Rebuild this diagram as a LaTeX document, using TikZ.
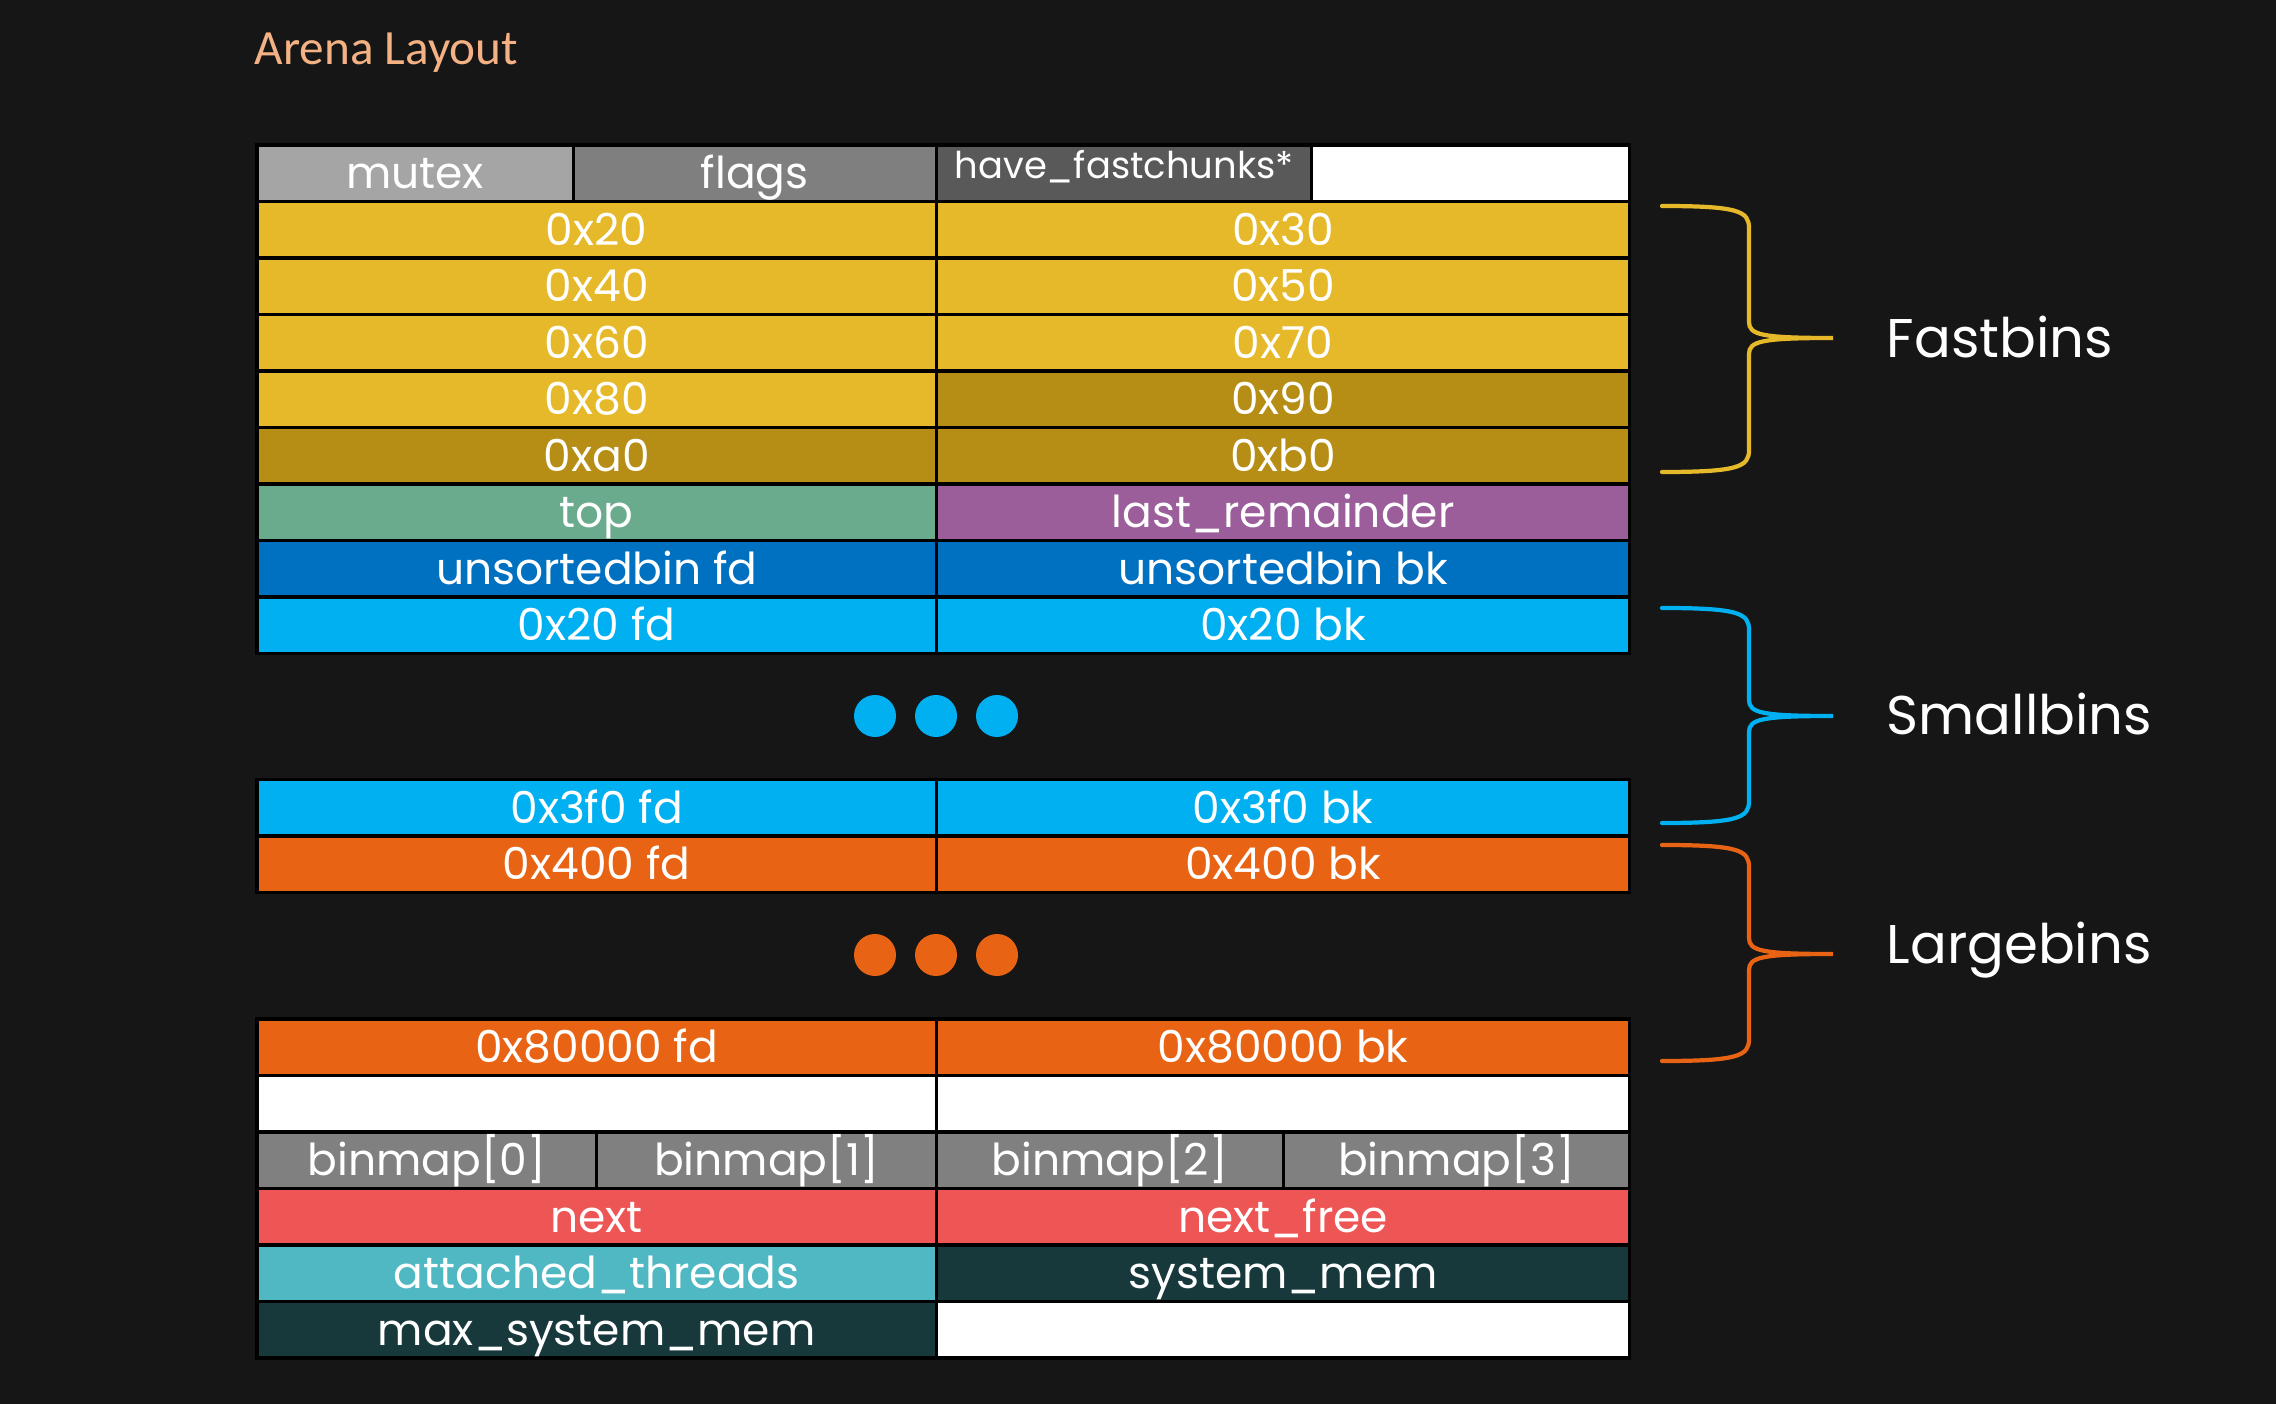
\documentclass[tikz,border=0pt]{standalone}
\usepackage{fontspec}
\newfontfamily\cellfont{Poppins}
\newfontfamily\titlefont{Carlito}
\usetikzlibrary{positioning}
\definecolor{bg}{HTML}{161616}
\definecolor{titlepeach}{HTML}{F4B183}
\definecolor{mutexgray}{HTML}{A5A5A5}
\definecolor{flaggray}{HTML}{7F7F7F}
\definecolor{fastgray}{HTML}{595959}
\definecolor{fastbin}{HTML}{E6B92B}
\definecolor{fastdark}{HTML}{B68E15}
\definecolor{topgreen}{HTML}{6AAB8E}
\definecolor{lastpurple}{HTML}{9B5E9B}
\definecolor{unsorted}{HTML}{0070C0}
\definecolor{smallbin}{HTML}{00B0F0}
\definecolor{largebin}{HTML}{E86414}
\definecolor{binmapgray}{HTML}{808080}
\definecolor{nextred}{HTML}{EE5555}
\definecolor{threadteal}{HTML}{4FB8C2}
\definecolor{memdark}{HTML}{18393C}
\tikzset{
  cell/.style={draw=black, line width=0.9pt, anchor=north west, inner sep=0pt,
               outer sep=0pt, minimum height=0.565cm, text=white,
               text height=8.8pt, text depth=0pt,
               font=\cellfont\fontsize{12.5}{14}\selectfont},
  halfl/.style={cell, minimum width=6.79cm},
  halfr/.style={cell, minimum width=6.93cm},
  dot/.style={circle, inner sep=0pt, minimum size=0.42cm},
  brace/.style={line width=1.2pt, line cap=round},
  binlabel/.style={anchor=west, inner sep=0pt, text=white,
                   font=\cellfont\fontsize{15.5}{18}\selectfont}
}
% colour, top, tip, bottom
\newcommand{\binbrace}[4]{%
  \draw[brace, draw=#1] (1662,#2) .. controls (1738,#2) and (1749,#2+5) .. (1749,#2+22)
    -- (1749,#3-16) .. controls (1749,#3-3) and (1762,#3) .. (1833,#3)
    .. controls (1762,#3) and (1749,#3+3) .. (1749,#3+16)
    -- (1749,#4-22) .. controls (1749,#4-5) and (1738,#4) .. (1662,#4);}
\begin{document}
\begin{tikzpicture}[x=0.01cm,y=-0.01cm]
  \fill[bg] (0,0) rectangle (2276,1404);
  \node[anchor=base west, inner sep=0pt, text=titlepeach,
        font=\titlefont\fontsize{14}{16}\selectfont] (title) at (254,65) {Arena Layout};
  % first row
  \node[cell, fill=mutexgray, minimum width=3.16cm] (mutex) at (257,145) {mutex};
  \node[cell, fill=flaggray, minimum width=3.63cm] (flags) at (mutex.north east) {flags};
  \node[cell, fill=fastgray, minimum width=3.75cm, text height=3pt,
        font=\cellfont\fontsize{10.5}{12}\selectfont] (havefast) at (flags.north east)
    {have\_fastchunks*};
  \node[cell, fill=white, minimum width=3.18cm] (pad1) at (havefast.north east) {};
  % two-column rows
  \foreach \n/\y/\lt/\rt/\lc/\rc in {
      2/201.5/0x20/0x30/fastbin/fastbin,
      3/258/0x40/0x50/fastbin/fastbin,
      4/314.5/0x60/0x70/fastbin/fastbin,
      5/371/0x80/0x90/fastbin/fastdark,
      6/427.5/0xa0/0xb0/fastdark/fastdark,
      7/484/top/last\_remainder/topgreen/lastpurple,
      8/540.5/unsortedbin fd/unsortedbin bk/unsorted/unsorted,
      9/597/0x20 fd/0x20 bk/smallbin/smallbin,
      10/779.5/0x3f0 fd/0x3f0 bk/smallbin/smallbin,
      11/836/0x400 fd/0x400 bk/largebin/largebin,
      12/1019/0x80000 fd/0x80000 bk/largebin/largebin,
      13/1075.5/{}/{}/white/white,
      15/1188.5/next/next\_free/nextred/nextred,
      16/1245/attached\_threads/system\_mem/threadteal/memdark,
      17/1301.5/max\_system\_mem/{}/memdark/white} {
    \node[halfl, fill=\lc] (l\n) at (257,\y) {\lt};
    \node[halfr, fill=\rc] (r\n) at (l\n.north east) {\rt};
  }
  % binmap row
  \node[cell, fill=binmapgray, minimum width=3.395cm] (bm0) at (257,1132) {binmap[0]};
  \node[cell, fill=binmapgray, minimum width=3.395cm] (bm1) at (bm0.north east) {binmap[1]};
  \node[cell, fill=binmapgray, minimum width=3.465cm] (bm2) at (bm1.north east) {binmap[2]};
  \node[cell, fill=binmapgray, minimum width=3.465cm] (bm3) at (bm2.north east) {binmap[3]};
  % ellipsis dots
  \foreach \i/\x in {1/875,2/936,3/997} {
    \node[dot, fill=smallbin] (sdot\i) at (\x,716) {};
    \node[dot, fill=largebin] (ldot\i) at (\x,955) {};
  }
  % braces and labels
  \binbrace{fastbin}{206}{338}{472}
  \binbrace{smallbin}{608}{716}{823}
  \binbrace{largebin}{845}{954}{1061}
  \node[binlabel] (fastlbl) at (1886,337) {Fastbins};
  \node[binlabel] (smalllbl) at (1886,714) {Smallbins};
  \node[binlabel] (largelbl) at (1886,950) {Largebins};
\end{tikzpicture}
\end{document}
